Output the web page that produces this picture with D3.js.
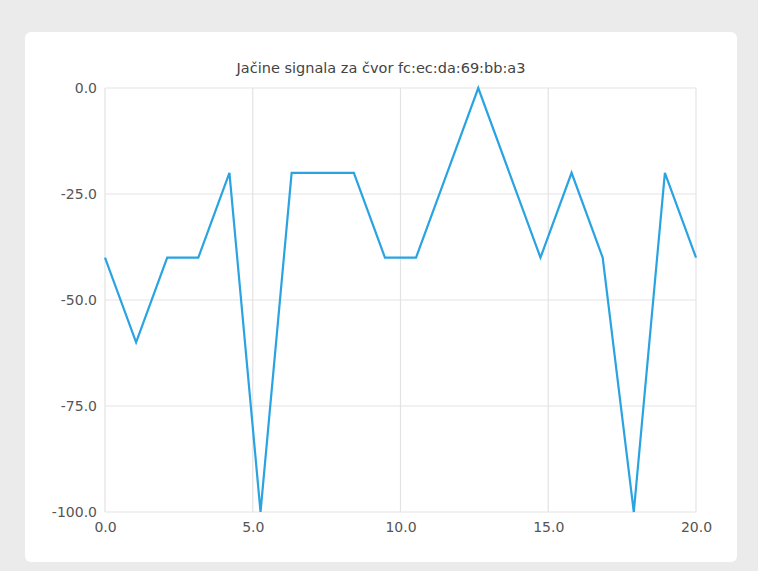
<!DOCTYPE html>
<html>
<head>
<meta charset="utf-8">
<script src="https://cdn.jsdelivr.net/npm/d3@7"></script>
<style>
  html, body { margin: 0; padding: 0; background: #ebebeb; }
  #card { position: absolute; left: 25px; top: 32px; width: 712px; height: 530px;
          background: #fff; border-radius: 6px; }
  svg { position: absolute; left: 0; top: 0; }
</style>
</head>
<body>
<div id="card"></div>
<div id="chart"></div>
<script>
// Signal strengths per sample
const title = "Jačine signala za čvor fc:ec:da:69:bb:a3";
const sampleCount = 20;
const signalValues = [-40, -60, -40, -40, -20, -100, -20, -20, -20, -40,
                      -40, -20, 0, -20, -40, -20, -40, -100, -20, -40];
const xTicks = [0, 5, 10, 15, 20];
const yTicks = [0, -25, -50, -75, -100];

const width = 758, height = 571;
const margin = { left: 105, right: 62, top: 88, bottom: 59 };

const svg = d3.select("#chart").append("svg")
  .attr("width", width)
  .attr("height", height);

const x = d3.scaleLinear().domain([0, 20]).range([margin.left, width - margin.right]);
const y = d3.scaleLinear().domain([-100, 0]).range([height - margin.bottom, margin.top]);

const points = signalValues.map((v, i) => ({ x: i * 20 / (sampleCount - 1), y: v }));
const fmt = d => d.toFixed(1);

// Grid lines
const grid = svg.append("g").attr("stroke", "#e3e3e3").attr("stroke-width", 1.2);
grid.selectAll(".vx").data(xTicks).join("line")
  .attr("x1", d => x(d)).attr("x2", d => x(d))
  .attr("y1", y(0)).attr("y2", y(-100));
grid.selectAll(".hy").data(yTicks).join("line")
  .attr("y1", d => y(d)).attr("y2", d => y(d))
  .attr("x1", x(0)).attr("x2", x(20));

// Axes (labels only)
const xAxis = svg.append("g")
  .attr("transform", `translate(0,${y(-100)})`)
  .call(d3.axisBottom(x).tickValues(xTicks).tickFormat(fmt).tickSize(0).tickPadding(10));
const yAxis = svg.append("g")
  .attr("transform", `translate(${x(0)},0)`)
  .call(d3.axisLeft(y).tickValues(yTicks).tickFormat(fmt).tickSize(0).tickPadding(8));

[xAxis, yAxis].forEach(a => {
  a.select(".domain").remove();
  a.attr("font-family", null).attr("font-size", null);
  a.selectAll("text")
    .attr("fill", "#555")
    .style("font-family", "'DejaVu Sans', sans-serif")
    .style("font-size", "14px");
});

// Title, centred on the card
svg.append("text")
  .attr("x", 381)
  .attr("y", 73)
  .attr("text-anchor", "middle")
  .attr("fill", "#444")
  .style("font-family", "'DejaVu Sans', sans-serif")
  .style("font-size", "14.5px")
  .text(title);

// Signal line
const line = d3.line().x(d => x(d.x)).y(d => y(d.y));
svg.append("path")
  .datum(points)
  .attr("fill", "none")
  .attr("stroke", "#29a3e2")
  .attr("stroke-width", 2.2)
  .attr("d", line);
</script>
</body>
</html>
